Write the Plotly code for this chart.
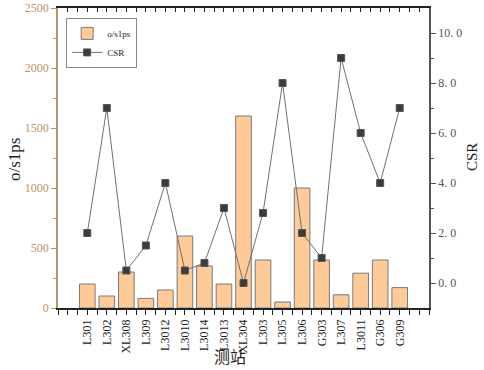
import plotly.graph_objects as go

stations = ["L301", "L302", "XL308", "L309", "L3012", "L3010", "L3014", "L3013", "XL304",
            "L303", "L305", "L306", "G303", "L307", "L3011", "G306", "G309"]
osps = [200, 100, 300, 80, 150, 600, 350, 200, 1600, 400, 50, 1000, 400, 110, 290, 400, 170]
csr = [2.0, 7.0, 0.5, 1.5, 4.0, 0.5, 0.8, 3.0, 0.0, 2.8, 8.0, 2.0, 1.0, 9.0, 6.0, 4.0, 7.0]

pos = list(range(1, len(stations) + 1))
FONT = "Liberation Serif"
CJK = "Noto Sans CJK SC"
TAN = "#B8956B"
half_ticks = [i * 0.5 for i in range(-1, 38)]

ML, MR, MT, MB = 58, 55, 8, 62
W, H = 484, 370

fig = go.Figure()
fig.add_trace(go.Bar(x=pos, y=osps, name="o/s1ps", width=0.8,
                     marker=dict(color="#FDCA98", line=dict(color="#7A7A7A", width=1))))
fig.add_trace(go.Scatter(x=pos, y=csr, name="CSR", yaxis="y2", mode="lines+markers",
                         line=dict(color="#707070", width=1),
                         marker=dict(symbol="square", size=7, color="#3C3C3C",
                                     line=dict(color="#555", width=1))))
fig.add_trace(go.Scatter(x=[0], y=[0], xaxis="x2", yaxis="y", mode="markers",
                         marker=dict(opacity=0), showlegend=False, hoverinfo="skip"))

fig.update_layout(
    width=W, height=H,
    margin=dict(l=ML, r=MR, t=MT, b=MB, autoexpand=False),
    plot_bgcolor="white", paper_bgcolor="white",
    font=dict(family=FONT, size=12, color="#222"),
    showlegend=True,
    legend=dict(x=0.022, y=0.967, xanchor="left", yanchor="top",
                bordercolor="#888", borderwidth=1, bgcolor="white",
                font=dict(size=9, family=FONT), tracegroupgap=0,
                itemwidth=30),
    xaxis=dict(range=[-0.5, 18.5], tickmode="array", tickvals=pos, ticktext=stations,
               tickangle=-90, ticks="outside", ticklen=5, tickcolor="#222", automargin=False,
               showline=True, linecolor="#222", linewidth=1.5, showgrid=False, zeroline=False,
               minor=dict(tickmode="array", tickvals=half_ticks,
                          ticks="outside", ticklen=5, tickcolor="#222"),
               tickfont=dict(size=12, color="#222", family=FONT)),
    xaxis2=dict(range=[-0.5, 18.5], overlaying="x", side="top", automargin=False,
                tickmode="array", tickvals=half_ticks, ticktext=[""] * len(half_ticks),
                ticks="inside", ticklen=4, tickcolor="#222",
                showline=True, linecolor="#222", linewidth=1.5, showgrid=False, zeroline=False),
    yaxis=dict(range=[0, 2500], tickvals=[0, 500, 1000, 1500, 2000, 2500], automargin=False,
               ticks="outside", ticklen=5, tickcolor=TAN, ticklabeloverflow="allow",
               showline=True, linecolor=TAN, linewidth=1.5, showgrid=False, zeroline=False,
               minor=dict(tickvals=[250, 750, 1250, 1750, 2250], ticks="outside", ticklen=3, tickcolor=TAN),
               tickfont=dict(size=12, color=TAN, family=FONT)),
    yaxis2=dict(range=[-1, 11], overlaying="y", side="right", automargin=False,
                tickmode="array", tickvals=[0, 2, 4, 6, 8, 10],
                ticktext=["0. 0", "2. 0", "4. 0", "6. 0", "8. 0", "10. 0"],
                ticks="outside", ticklen=5, tickcolor="#555",
                showline=True, linecolor="#555", linewidth=1.5, showgrid=False, zeroline=False,
                minor=dict(tickvals=[1, 3, 5, 7, 9], ticks="outside", ticklen=3, tickcolor="#555"),
                tickfont=dict(size=12, color="#555", family=FONT)),
    annotations=[
        dict(text="o/s1ps", x=15, y=160, xref="paper", yref="paper", showarrow=False,
             xanchor="center", yanchor="middle",
             textangle=-90, font=dict(size=17, family=FONT, color="#222")),
        dict(text="CSR", x=472, y=157, xref="paper", yref="paper", showarrow=False,
             xanchor="center", yanchor="middle",
             textangle=-90, font=dict(size=15, family=FONT, color="#222")),
        dict(text="测站", x=230, y=356, xref="paper", yref="paper", showarrow=False,
             xanchor="center", yanchor="middle",
             font=dict(size=16, family=CJK, color="#222")),
    ],
)

# convert pixel positions of annotations to paper coordinates
pw = W - ML - MR
ph = H - MT - MB
for a in fig.layout.annotations:
    px, py = a.x, a.y
    a.x = (px - ML) / pw
    a.y = (H - MB - py) / ph

fig.write_html("out.html", config={"displayModeBar": False},
               post_script="document.body.style.margin='0';document.body.style.overflow='hidden';")
